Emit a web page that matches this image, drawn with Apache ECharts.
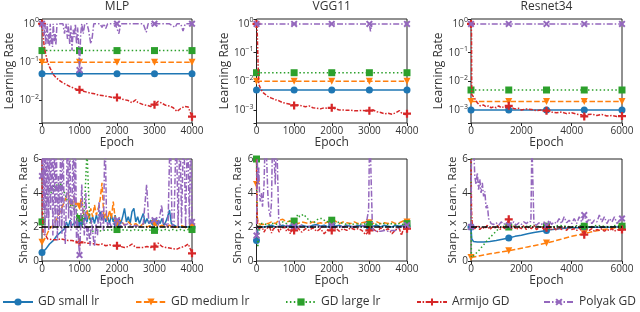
<!DOCTYPE html>
<html><head><meta charset="utf-8">
<script src="https://cdn.jsdelivr.net/npm/echarts@6/dist/echarts.min.js"></script>
<style>html,body{margin:0;padding:0;background:#fff}#c{width:640px;height:312px}</style>
</head><body><div id="c"></div>
<script>
const FONT = '"Open Sans", "Noto Sans", sans-serif';
const TXT = '#333';
const methods = ['GD small lr', 'GD medium lr', 'GD large lr', 'Armijo GD', 'Polyak GD'];
const colors = ['#1f77b4', '#ff7f0e', '#2ca02c', '#d62728', '#9467bd'];
const panelTitles = ['MLP', 'VGG11', 'Resnet34'];
const epochMax = [4000, 4000, 6000];
const epochTick = [1000, 1000, 2000];
const markEvery = [1000, 1000, 1500];
const lrMin = [0.0026, 0.000354, 0.000354];
const lrMax = [1.33, 1.49, 1.49];
const sharpTicks = [0, 2, 4, 6];
const sharpRef = 2;

// ---- Learning rate (top row) ----
const mlpLrConst = [0.05, 0.1, 0.2];
const vggLrConst = [0.005, 0.01, 0.02];
const resLrConst = [0.001, 0.002, 0.005];

const mlpLrArmijo = [[0,1.0],[30,0.5],[60,0.25],[100,0.16],[150,0.1],[200,0.075],[250,0.06],[300,0.048],[350,0.042],[400,0.038],[450,0.034],[500,0.031],[550,0.029],[600,0.028],[650,0.026],[700,0.025],[750,0.023],[800,0.022],[850,0.021],[900,0.02],[950,0.019],[1000,0.019],[1100,0.0175],[1200,0.0165],[1300,0.0155],[1400,0.015],[1500,0.014],[1600,0.0135],[1700,0.013],[1800,0.0125],[1900,0.0118],[2000,0.012],[2100,0.011],[2200,0.0105],[2300,0.01],[2400,0.0088],[2450,0.0082],[2500,0.0105],[2550,0.009],[2600,0.0085],[2700,0.0078],[2800,0.0075],[2900,0.007],[3000,0.0078],[3050,0.0082],[3100,0.0095],[3150,0.0092],[3200,0.0085],[3300,0.0075],[3400,0.0072],[3500,0.0065],[3550,0.006],[3600,0.0052],[3650,0.0058],[3700,0.0062],[3750,0.0068],[3800,0.007],[3850,0.0064],[3900,0.0068],[3950,0.005],[4000,0.0038]];
const mlpLrPolyak = [[0,1],[40,1],[60,0.5],[80,1],[100,0.28],[120,0.5],[140,1],[160,0.3],[180,0.55],[200,0.27],[220,1],[240,0.3],[260,0.5],[280,0.25],[300,1],[330,0.35],[350,0.55],[370,0.28],[400,1],[450,1],[500,1],[560,1],[600,0.55],[640,1],[680,0.4],[700,1],[740,0.3],[770,0.9],[800,0.2],[830,0.7],[860,0.45],[890,1],[920,0.3],[950,0.8],[980,0.25],[1000,0.062],[1030,0.5],[1060,1],[1100,0.55],[1140,1],[1200,1],[1240,0.7],[1300,0.3],[1340,0.45],[1380,1],[1450,1],[1550,1],[1600,0.8],[1650,1],[1700,0.75],[1750,1],[1850,1],[1950,1],[2000,1],[2050,0.55],[2100,1],[2300,1],[2500,1],[2700,1],[2780,0.6],[2830,1],[3000,1],[3200,1],[3400,1],[3550,0.8],[3600,1],[3700,1],[3760,0.65],[3820,1],[4000,1]];

const vggLrArmijo = [[0,1.0],[20,0.5],[40,0.05],[60,0.008],[100,0.006],[150,0.0045],[200,0.0038],[300,0.003],[400,0.0026],[500,0.0023],[600,0.0021],[700,0.0018],[800,0.0017],[900,0.0016],[1000,0.00145],[1100,0.0015],[1200,0.0014],[1300,0.0013],[1400,0.0014],[1500,0.0012],[1600,0.00115],[1700,0.0011],[1800,0.0012],[1900,0.00115],[2000,0.0012],[2100,0.0011],[2200,0.001],[2300,0.001],[2400,0.00098],[2500,0.001],[2600,0.00095],[2700,0.00095],[2800,0.00097],[2900,0.00095],[3000,0.00095],[3100,0.001],[3200,0.00088],[3300,0.00082],[3400,0.00074],[3500,0.00078],[3600,0.00072],[3700,0.0008],[3750,0.00085],[3800,0.00095],[3850,0.0008],[3900,0.00078],[3950,0.0007],[4000,0.00075]];
const vggLrPolyak = [[0,1],[1000,1],[2000,1],[3000,1],[3030,0.55],[3060,1],[4000,1]];

const resLrArmijo = [[0,1.0],[20,0.5],[30,0.0035],[80,0.0033],[150,0.0025],[250,0.0018],[360,0.0014],[500,0.0015],[600,0.0013],[700,0.0014],[800,0.0012],[900,0.0013],[1000,0.0012],[1100,0.0014],[1200,0.0012],[1300,0.0013],[1400,0.0012],[1500,0.0014],[1600,0.0012],[1750,0.0011],[1900,0.00115],[2000,0.001],[2200,0.0011],[2400,0.00105],[2600,0.00095],[2800,0.001],[3000,0.00095],[3200,0.00085],[3400,0.0008],[3600,0.00085],[3800,0.00075],[4000,0.0008],[4200,0.00072],[4400,0.00068],[4500,0.0006],[4600,0.0007],[4800,0.00072],[5000,0.00065],[5200,0.0007],[5400,0.00062],[5600,0.00065],[5800,0.0006],[6000,0.00062]];
const resLrPolyak = [[0,1],[50,0.85],[100,1],[1500,1],[3000,1],[4500,1],[6000,1]];

// ---- Sharpness x learning rate (bottom row) ----
const mlpShSmall = [[0,0.5],[100,0.7],[200,1.0],[300,1.2],[400,1.5],[500,1.7],[600,1.9],[650,2.3],[700,2.0],[750,2.4],[800,2.1],[850,2.0],[900,2.3],[950,2.0],[1000,2.2],[1050,2.5],[1100,2.2],[1150,2.6],[1200,2.3],[1250,2.8],[1300,2.3],[1350,2.6],[1400,2.2],[1450,2.7],[1500,2.3],[1550,2.9],[1600,2.4],[1650,2.7],[1700,2.3],[1750,2.6],[1800,2.2],[1850,2.7],[1900,2.3],[1950,2.7],[2000,2.2],[2050,2.5],[2100,2.2],[2150,2.6],[2200,3.1],[2250,2.3],[2300,2.6],[2350,2.2],[2400,2.9],[2450,3.1],[2500,2.3],[2550,2.6],[2600,2.2],[2650,2.5],[2700,2.8],[2750,2.2],[2800,2.5],[2850,2.2],[2900,2.4],[2950,2.1],[3000,2.3],[3050,2.1],[3100,2.4],[3150,2.2],[3200,2.5],[3250,2.1],[3300,2.3],[3350,2.6],[3400,3.0],[3450,2.2],[3500,2.1],[3600,2.0],[3700,2.0],[3800,2.0],[3900,2.0],[4000,2.0]];
const mlpShMedium = [[0,1.1],[100,1.4],[200,1.9],[300,2.1],[400,2.5],[500,3.0],[600,3.5],[700,4.0],[750,3.4],[800,3.2],[850,3.8],[900,3.3],[950,3.5],[1000,3.2],[1050,3.7],[1100,2.8],[1150,2.6],[1200,3.0],[1250,2.5],[1300,3.1],[1350,2.6],[1400,3.3],[1450,2.7],[1500,3.1],[1550,3.6],[1600,4.6],[1650,2.5],[1700,2.8],[1750,2.4],[1800,3.0],[1850,2.5],[1900,3.5],[1950,2.5],[2000,2.2],[2100,2.4],[2200,2.1],[2300,2.3],[2400,2.1],[2500,2.2],[2600,2.0],[2700,2.2],[2800,2.0],[2900,2.1],[3000,2.2],[3100,2.0],[3200,2.1],[3300,2.0],[3400,2.1],[3500,2.0],[3600,2.0],[3700,2.1],[3800,2.0],[3900,1.9],[4000,2.0]];
const mlpShLarge = [[0,2.3],[50,2.8],[100,3.5],[150,3.9],[200,4.3],[250,4.0],[300,4.4],[350,4.1],[400,4.5],[450,4.2],[500,4.6],[550,4.3],[600,4.0],[650,3.7],[700,3.4],[750,3.1],[800,3.6],[850,3.0],[900,3.3],[950,2.7],[1000,2.5],[1050,2.3],[1100,2.1],[1150,4.0],[1200,6.5],[1230,6.5],[1260,3.0],[1300,1.7],[1400,1.8],[1500,1.8],[1600,1.75],[1700,1.85],[1800,1.8],[1900,1.85],[2000,1.85],[2100,1.8],[2200,1.85],[2300,1.8],[2400,1.8],[2500,1.85],[2600,1.8],[2700,1.8],[2800,1.85],[2900,1.8],[3000,1.8],[3100,1.85],[3200,1.8],[3300,1.85],[3400,1.8],[3500,1.85],[3600,1.8],[3700,1.85],[3800,1.8],[3900,1.85],[4000,1.85]];
const mlpShArmijo = [[0,6.5],[10,3.0],[30,1.6],[100,1.5],[150,1.3],[200,1.4],[300,1.25],[400,1.25],[500,1.3],[600,1.25],[700,1.2],[800,1.2],[900,1.15],[1000,1.1],[1100,1.1],[1200,1.05],[1300,1.05],[1400,1.0],[1500,0.95],[1600,1.0],[1700,0.9],[1800,0.95],[1900,0.9],[2000,0.9],[2100,0.85],[2200,0.8],[2300,0.85],[2400,1.0],[2450,0.9],[2500,0.8],[2600,0.8],[2700,0.8],[2800,0.85],[2900,0.8],[3000,0.85],[3100,1.05],[3150,1.0],[3200,0.85],[3300,0.8],[3400,0.77],[3500,0.72],[3600,0.7],[3700,0.8],[3800,0.85],[3900,1.0],[4000,0.45]];
const mlpShPolyak = [[0,5],[20,8],[40,3],[60,8],[80,1.5],[100,8],[130,2.5],[150,8],[180,1.8],[200,8],[230,3],[260,8],[290,1.5],[320,8],[350,2],[380,8],[410,1.2],[440,5],[470,2.0],[500,8],[530,1.6],[560,8],[590,2.5],[620,1.0],[650,3.5],[680,8],[710,2.5],[740,8],[770,1.8],[800,3.0],[830,8],[860,2.0],[890,8],[920,1.2],[950,2.5],[980,1.0],[1000,0.35],[1030,2.0],[1060,4.5],[1100,2.5],[1130,1.5],[1170,4.0],[1200,1.2],[1240,2.0],[1280,0.9],[1320,2.5],[1360,1.5],[1400,0.85],[1440,2.2],[1480,1.5],[1520,3.5],[1560,2.0],[1600,3.0],[1640,1.8],[1680,8],[1720,2.5],[1760,2.0],[1800,2.3],[1850,2.0],[1900,2.2],[1950,2.0],[2000,2.4],[2050,2.2],[2100,2.0],[2150,2.3],[2200,2.1],[2300,2.2],[2400,2.0],[2500,2.1],[2600,2.0],[2700,2.2],[2790,4.5],[2850,2.2],[2900,2.1],[3000,2.4],[3100,2.1],[3190,3.3],[3250,2.0],[3300,2.2],[3360,2.0],[3420,8],[3470,2.0],[3520,2.2],[3580,8],[3630,2.0],[3680,8],[3720,2.2],[3780,8],[3830,2.0],[3880,8],[3930,2.2],[3960,8],[4000,2.3]];

const vggShSmall = [[0,1.2],[20,1.6],[50,2.0],[100,2.1],[200,2.0],[300,2.05],[400,2.1],[500,2.0],[600,2.05],[700,2.1],[800,2.0],[900,2.1],[1000,2.05],[1100,2.0],[1200,2.1],[1300,2.05],[1400,2.0],[1500,2.1],[1600,2.15],[1700,2.05],[1800,2.1],[1900,2.0],[2000,2.1],[2100,2.05],[2200,2.1],[2300,2.0],[2400,2.1],[2500,2.05],[2600,2.0],[2700,2.1],[2800,2.05],[2900,2.1],[3000,2.0],[3100,2.05],[3200,2.1],[3300,2.0],[3400,2.1],[3500,2.05],[3600,2.0],[3700,2.1],[3800,2.05],[3900,2.1],[4000,2.05]];
const vggShMedium = [[0,4.5],[20,2.6],[50,2.2],[100,2.3],[150,2.15],[200,2.25],[300,2.2],[400,2.3],[500,2.2],[600,2.4],[700,2.45],[800,2.3],[900,2.35],[1000,2.3],[1100,2.2],[1200,2.3],[1300,2.25],[1400,2.2],[1500,2.3],[1600,2.2],[1700,2.25],[1800,2.2],[1900,2.3],[2000,2.25],[2100,2.35],[2200,2.2],[2300,2.3],[2400,2.25],[2500,2.2],[2600,2.3],[2700,2.2],[2800,2.25],[2900,2.3],[3000,2.25],[3100,2.2],[3200,2.3],[3300,2.2],[3400,2.25],[3500,2.2],[3600,2.3],[3700,2.2],[3800,2.25],[3900,2.35],[4000,2.3]];
const vggShLarge = [[0,6],[15,3],[35,0.8],[60,1.5],[100,2.2],[200,2.2],[300,2.1],[400,2.2],[500,2.2],[600,2.1],[700,2.3],[800,2.2],[900,2.4],[1000,2.35],[1050,2.5],[1100,2.75],[1150,2.6],[1200,2.5],[1250,2.75],[1300,2.7],[1350,2.5],[1400,2.4],[1450,2.3],[1500,2.2],[1550,2.3],[1600,2.4],[1650,2.5],[1700,2.4],[1750,2.5],[1800,2.6],[1850,2.3],[1900,2.3],[1950,2.35],[2000,2.4],[2100,2.2],[2200,2.3],[2300,2.2],[2400,2.15],[2500,2.2],[2600,2.15],[2700,2.2],[2800,2.15],[2900,2.2],[3000,2.15],[3100,2.2],[3200,2.15],[3300,2.2],[3400,2.2],[3500,2.15],[3600,2.2],[3700,2.15],[3800,2.2],[3900,2.15],[4000,2.2]];
const vggShArmijo = [[0,6.5],[10,3.5],[25,2.2],[50,1.9],[100,1.8],[150,2.0],[200,1.7],[250,1.9],[300,1.8],[350,2.0],[400,1.65],[450,1.9],[500,1.8],[550,2.0],[600,1.7],[650,1.9],[700,1.85],[750,2.0],[800,1.75],[850,1.9],[900,1.6],[950,1.9],[1000,1.8],[1100,1.95],[1200,1.7],[1300,1.9],[1400,1.8],[1500,1.95],[1600,1.75],[1700,1.9],[1800,1.6],[1900,1.85],[2000,1.8],[2100,1.95],[2200,1.75],[2300,1.9],[2400,1.8],[2500,1.95],[2600,1.85],[2700,1.9],[2800,1.8],[2900,1.55],[3000,1.8],[3100,1.9],[3200,1.7],[3300,1.95],[3400,1.8],[3500,1.9],[3600,1.6],[3700,1.85],[3800,1.9],[3850,1.5],[3900,1.85],[4000,1.9]];
const vggShPolyak = [[0,1.5],[20,6],[40,4.5],[60,5.5],[80,4.0],[100,3.5],[130,4],[160,3.2],[200,4.5],[240,8],[280,8],[300,4.0],[330,3.0],[370,2.6],[400,3.5],[430,8],[460,8],[500,4.5],[530,8],[560,8],[590,2.5],[620,2.1],[700,2.0],[800,2.1],[900,2.0],[1000,2.05],[1100,2.0],[1200,2.1],[1300,2.0],[1400,2.05],[1500,2.0],[1600,2.1],[1700,2.0],[1800,2.05],[1900,2.0],[2000,2.1],[2100,2.0],[2200,2.05],[2300,2.0],[2400,2.1],[2500,2.0],[2600,2.05],[2700,2.0],[2800,2.1],[2900,2.0],[2980,3],[3010,8],[3050,8],[3080,2.0],[3120,1.75],[3200,1.75],[3300,1.75],[3400,1.8],[3500,1.75],[3600,1.8],[3700,1.8],[3800,2.0],[3900,2.05],[4000,2.1]];

const resShSmall = [[0,2.0],[30,1.3],[100,1.15],[250,1.12],[500,1.12],[750,1.15],[1000,1.2],[1250,1.28],[1500,1.35],[1750,1.45],[2000,1.52],[2250,1.6],[2500,1.67],[2750,1.74],[3000,1.8],[3250,1.86],[3500,1.9],[3750,1.93],[4000,1.95],[4250,1.96],[4500,1.97],[4750,1.98],[5000,1.98],[5250,1.99],[5500,1.99],[5750,2.0],[6000,2.0]];
const resShMedium = [[0,0.2],[250,0.28],[500,0.35],[750,0.42],[1000,0.48],[1250,0.55],[1500,0.6],[1750,0.67],[2000,0.75],[2250,0.83],[2500,0.9],[2750,0.98],[3000,1.06],[3250,1.15],[3500,1.25],[3750,1.35],[4000,1.45],[4250,1.53],[4500,1.6],[4750,1.7],[5000,1.78],[5250,1.85],[5500,1.9],[5750,1.95],[6000,2.0]];
const resShLarge = [[0,6.5],[15,0.2],[100,0.3],[300,0.6],[500,0.95],[700,1.3],[900,1.6],[1100,1.9],[1250,2.05],[1500,2.0],[1750,2.1],[2000,2.0],[2250,2.05],[2500,2.1],[2750,2.0],[3000,2.05],[3250,2.0],[3500,2.1],[3750,2.05],[4000,2.0],[4250,2.1],[4500,2.05],[4750,2.0],[5000,2.1],[5250,2.05],[5500,2.0],[5750,2.1],[6000,2.05]];
const resShArmijo = [[0,6.5],[20,3.0],[50,2.1],[150,1.9],[250,2.1],[350,1.85],[450,2.0],[550,1.9],[650,2.1],[750,1.85],[850,2.0],[950,1.95],[1050,2.1],[1150,1.85],[1250,2.0],[1350,1.9],[1500,2.45],[1600,1.9],[1700,2.05],[1800,1.85],[1900,2.0],[2000,1.9],[2100,2.1],[2200,1.85],[2300,2.0],[2400,1.9],[2500,2.1],[2600,1.85],[2700,1.95],[2800,2.05],[2900,1.85],[3000,1.95],[3100,2.1],[3200,1.85],[3300,1.95],[3400,1.8],[3500,2.0],[3600,1.85],[3700,1.95],[3800,1.8],[3900,2.0],[4000,1.85],[4100,1.9],[4200,1.8],[4300,1.95],[4400,1.75],[4500,1.55],[4600,1.85],[4700,1.8],[4800,1.9],[4900,1.75],[5000,1.85],[5100,1.8],[5200,1.9],[5300,1.75],[5400,1.85],[5500,1.8],[5600,1.9],[5700,1.75],[5800,1.85],[5900,1.8],[6000,1.85]];
const resShPolyak = [[0,2],[20,7],[60,6.5],[100,7],[150,5],[200,4.5],[250,5.2],[300,4.2],[350,4.8],[400,4.0],[450,4.6],[500,3.8],[550,4.1],[600,3.1],[650,3.3],[700,2.5],[800,2.2],[900,2.15],[1000,2.25],[1100,2.1],[1200,2.3],[1300,2.15],[1400,2.25],[1500,2.1],[1600,2.2],[1700,2.3],[1800,2.1],[1900,2.25],[2000,2.15],[2100,2.3],[2200,2.2],[2300,2.35],[2380,2.3],[2420,7],[2460,7],[2500,2.2],[2600,2.1],[2700,2.25],[2800,2.15],[2900,2.3],[3000,2.1],[3100,2.4],[3200,2.15],[3300,2.3],[3400,2.2],[3500,2.5],[3600,2.2],[3700,2.6],[3800,2.25],[3900,2.4],[4000,2.2],[4100,2.5],[4200,2.2],[4300,2.6],[4400,2.3],[4500,2.7],[4600,2.25],[4700,2.5],[4800,2.2],[4900,2.4],[5000,2.3],[5100,2.7],[5200,2.3],[5300,2.6],[5400,2.2],[5500,2.5],[5600,2.3],[5700,2.6],[5800,2.2],[5900,2.4],[6000,2.5]];

// ---------- build ----------
const PLUS = 'path://M3.6,0H6.4V3.6H10V6.4H6.4V10H3.6V6.4H0V3.6H3.6Z';
const XMARK = 'path://M0,2L2,0L5,3L8,0L10,2L7,5L10,8L8,10L5,7L2,10L0,8L3,5Z';
const styles = [
  {symbol: 'circle', size: 7, rot: 0, dash: 'solid'},
  {symbol: 'triangle', size: 7, rot: 180, dash: [5.5, 2.4]},
  {symbol: 'rect', size: 7, rot: 0, dash: [1.5, 2.4]},
  {symbol: PLUS, size: 8, rot: 0, dash: [4, 1.6, 1.5, 1.6]},
  {symbol: XMARK, size: 7, rot: 0, dash: [6, 2, 1.5, 2]}
];

function constPairs(v, p) {
  const out = [];
  for (let e = 0; e <= epochMax[p]; e += markEvery[p]) out.push([e, v]);
  return out;
}
const lrConsts = [mlpLrConst, vggLrConst, resLrConst];
const lrArmijo = [mlpLrArmijo, vggLrArmijo, resLrArmijo];
const lrPolyak = [mlpLrPolyak, vggLrPolyak, resLrPolyak];
const shAll = [
  [mlpShSmall, mlpShMedium, mlpShLarge, mlpShArmijo, mlpShPolyak],
  [vggShSmall, vggShMedium, vggShLarge, vggShArmijo, vggShPolyak],
  [resShSmall, resShMedium, resShLarge, resShArmijo, resShPolyak]
];

const gl = [42, 256.5, 471];
const gw = [150, 150.5, 151];
const grids = [], xAxes = [], yAxes = [], series = [], titles = [];

function mkData(pairs, every) {
  return pairs.map(p => (p[0] % every === 0) ? {value: p} : {value: p, symbol: 'none'});
}
function powLabel(v) {
  const e = Math.log10(v), r = Math.round(e);
  if (Math.abs(e - r) > 1e-6) return '';
  return '{b|10}{s|' + (r < 0 ? '\u2212' + (-r) : String(r)) + '}';
}
const axTxt = {color: TXT, fontFamily: FONT, fontSize: 10};

for (let row = 0; row < 2; row++) {
  for (let p = 0; p < 3; p++) {
    const g = grids.length;
    grids.push({left: gl[p], width: gw[p], top: row === 0 ? 19 : 159, height: row === 0 ? 104 : 102,
      show: true, borderColor: '#222', borderWidth: 1, backgroundColor: 'transparent', containLabel: false});
    xAxes.push({type: 'value', gridIndex: g, min: 0, max: epochMax[p], interval: epochTick[p],
      name: 'Epoch', nameLocation: 'middle', nameGap: row === 0 ? 11 : 13,
      nameTextStyle: {color: TXT, fontFamily: FONT, fontSize: 12},
      axisLine: {show: false}, splitLine: {show: false},
      axisTick: {show: true, length: 3, lineStyle: {color: '#222'}},
      axisLabel: Object.assign({margin: 3, formatter: v => String(v)}, axTxt)});
    if (row === 0) {
      yAxes.push({type: 'log', logBase: 10, gridIndex: g, min: lrMin[p], max: lrMax[p],
        name: 'Learning Rate', nameLocation: 'middle', nameGap: p === 0 ? 15 : 16,
        nameTextStyle: {color: TXT, fontFamily: FONT, fontSize: 12},
        axisLine: {show: false}, splitLine: {show: false},
        axisTick: {show: true, length: 3, lineStyle: {color: '#222'}},
        axisLabel: {margin: 3, formatter: powLabel, color: TXT,
          rich: {b: {fontSize: 10, fontFamily: FONT, color: TXT},
                 s: {fontSize: 7, fontFamily: FONT, color: TXT, padding: [0, 0, 7, 0]}}}});
      for (let k = 0; k < 3; k++) addSeries(g, p, k, constPairs(lrConsts[p][k], p));
      addSeries(g, p, 3, lrArmijo[p]);
      addSeries(g, p, 4, lrPolyak[p]);
    } else {
      yAxes.push({type: 'value', gridIndex: g, min: sharpTicks[0], max: sharpTicks[sharpTicks.length - 1], interval: 2,
        name: 'Sharp. x Learn. Rate', nameLocation: 'middle', nameGap: 12,
        nameTextStyle: {color: TXT, fontFamily: FONT, fontSize: 11.5},
        axisLine: {show: false}, splitLine: {show: false},
        axisTick: {show: true, length: 3, lineStyle: {color: '#222'}},
        axisLabel: Object.assign({margin: 3}, axTxt)});
      for (let k = 0; k < 5; k++) addSeries(g, p, k, shAll[p][k]);
      series.push({type: 'line', xAxisIndex: g, yAxisIndex: g, symbol: 'none', silent: true,
        data: [[0, sharpRef], [epochMax[p], sharpRef]], z: 10,
        lineStyle: {color: '#000', width: 1.5, type: [6, 1.6, 1.5, 1.6]}});
    }
  }
}
function addSeries(g, p, k, pairs) {
  const st = styles[k];
  series.push({type: 'line', name: methods[k], xAxisIndex: g, yAxisIndex: g,
    data: mkData(pairs, markEvery[p]), symbol: st.symbol, symbolSize: st.size, symbolRotate: st.rot,
    showSymbol: true, showAllSymbol: true, clip: true, z: 2 + k,
    lineStyle: {color: colors[k], width: 1.5, type: st.dash},
    itemStyle: {color: colors[k]}, emphasis: {disabled: true}});
}
for (let p = 0; p < 3; p++) {
  titles.push({text: panelTitles[p], left: gl[p] + gw[p] / 2, top: 0, textAlign: 'center', padding: 0,
    textStyle: {color: TXT, fontFamily: FONT, fontSize: 12, fontWeight: 'normal', lineHeight: 13}});
}
const legLeft = [2, 135, 285, 416, 543];
const legends = methods.map((m, i) => ({data: [m], left: legLeft[i], top: 296, itemWidth: 30, itemHeight: 9,
  itemGap: 0, padding: 0, selectedMode: false, textStyle: {color: TXT, fontFamily: FONT, fontSize: 12}}));

const chart = echarts.init(document.getElementById('c'), null, {renderer: 'canvas'});
chart.setOption({animation: false, backgroundColor: '#fff', title: titles, grid: grids, xAxis: xAxes, yAxis: yAxes,
  series: series, legend: legends});
</script></body></html>
